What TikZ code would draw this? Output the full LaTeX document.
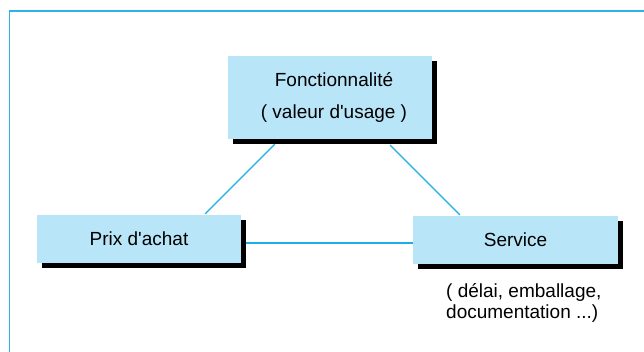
\documentclass[tikz,border=0pt]{standalone}
\usepackage{fontspec}
\setmainfont{Liberation Sans}
\usetikzlibrary{calc,shadows}
\definecolor{boxfill}{HTML}{B9E5F8}
\definecolor{linkcol}{HTML}{1BAEE8}
\definecolor{framecol}{HTML}{2FB0E6}
\tikzset{
  card/.style={fill=boxfill, inner sep=0pt, align=center,
    font=\fontsize{19}{29}\selectfont,
    general shadow={fill=black, shadow xshift=5pt, shadow yshift=-5pt}},
  link/.style={draw=linkcol, line width=1.3pt},
}
\begin{document}
\begin{tikzpicture}[x=1pt,y=-1pt]
\useasboundingbox (0,0) rectangle (644,352);
\draw[framecol, line width=1.5pt] (9.5,352) -- (9.5,11) -- (644,11);

\node[card, minimum width=204pt, minimum height=83pt] (fonc) at (330,97.5)
  {\hspace*{8pt}Fonctionnalité\\[3pt]\hspace*{8pt}( valeur d\textquotesingle usage )};
\node[card, minimum width=204pt, minimum height=48pt] (prix) at (139,239) {Prix d\textquotesingle achat};
\node[card, minimum width=205pt, minimum height=48pt] (serv) at (515.5,240) {Service};
\node[anchor=north west, inner sep=0pt, align=left,
  font=\fontsize{19}{21}\selectfont] (note) at (446,283)
  {( délai, emballage,\\documentation ...)};

\coordinate (a1) at ($(fonc.south west)+(47,5)$);
\coordinate (a2) at ($(prix.north east)+(-36,-1)$);
\coordinate (b1) at ($(fonc.south east)+(-42,6)$);
\coordinate (b2) at ($(serv.north west)+(47,-1)$);
\coordinate (c1) at ($(prix.east)+(5,4)$);
\draw[link] (a1) -- (a2);
\draw[link] (b1) -- (b2);
\draw[link] (c1) -- (c1 -| serv.west);
\end{tikzpicture}
\end{document}
